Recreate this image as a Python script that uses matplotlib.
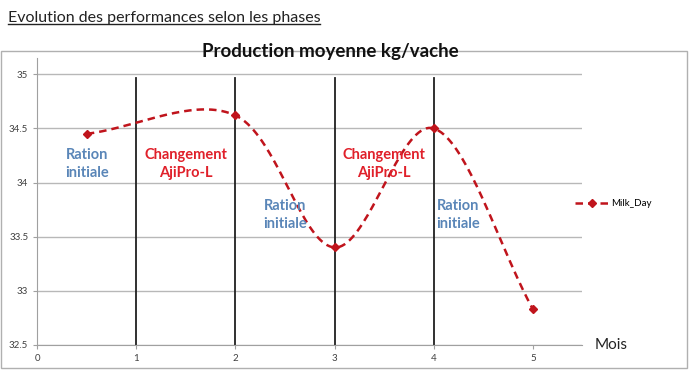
import matplotlib
matplotlib.use('Agg')
import matplotlib.pyplot as plt
from matplotlib.patches import Rectangle
from matplotlib.lines import Line2D
import numpy as np

plt.rcParams['font.family'] = ['Lato', 'DejaVu Sans']

# data
mois = [0.5, 2, 3, 4, 5]
milk_day = [34.45, 34.62, 33.40, 34.50, 32.83]
phases = [1, 2, 3, 4]
labels = [
    (0.5, 34.17, 'Ration\ninitiale', 'blue'),
    (1.5, 34.17, 'Changement\nAjiPro-L', 'red'),
    (2.5, 33.7, 'Ration\ninitiale', 'blue'),
    (3.5, 34.17, 'Changement\nAjiPro-L', 'red'),
    (4.25, 33.7, 'Ration\ninitiale', 'blue'),
]
COLORS = {'blue': '#5a86b8', 'red': '#e0202a'}
LINE = '#c0141c'


def smooth(x, y, n=40):
    # Catmull-Rom style smoothing, like the spreadsheet "smoothed line"
    x = np.asarray(x, float)
    y = np.asarray(y, float)
    px = np.concatenate([[2 * x[0] - x[1]], x, [2 * x[-1] - x[-2]]])
    py = np.concatenate([[2 * y[0] - y[1]], y, [2 * y[-1] - y[-2]]])
    xs, ys = [], []
    t = np.linspace(0, 1, n)
    for i in range(1, len(px) - 2):
        b = []
        for p in (px, py):
            p0, p1, p2, p3 = p[i - 1], p[i], p[i + 1], p[i + 2]
            c1 = p1 + (p2 - p0) / 6
            c2 = p2 - (p3 - p1) / 6
            b.append((1 - t) ** 3 * p1 + 3 * (1 - t) ** 2 * t * c1
                     + 3 * (1 - t) * t ** 2 * c2 + t ** 3 * p2)
        xs.append(b[0])
        ys.append(b[1])
    return np.concatenate(xs), np.concatenate(ys)


fig = plt.figure(figsize=(6.9, 3.7), dpi=100)
fig.patch.set_facecolor('white')
fig.patches.append(Rectangle((0.002, 0.005), 0.994, 0.858, transform=fig.transFigure,
                             fill=False, edgecolor='#b0b0b0', linewidth=1))

ax = fig.add_axes([0.054, 0.068, 0.79, 0.775])
ax.set_xlim(0, 5.5)
ax.set_ylim(32.5, 35.15)
ax.set_yticks([32.5, 33, 33.5, 34, 34.5, 35])
ax.set_yticklabels(['32.5', '33', '33.5', '34', '34.5', '35'])
ax.set_xticks(range(6))
ax.grid(axis='y', color='#b8b8b8', linewidth=1)
ax.set_axisbelow(True)
for s in ['top', 'right']:
    ax.spines[s].set_visible(False)
ax.spines['left'].set_color('#a0a0a0')
ax.spines['bottom'].set_color('#a0a0a0')
ax.tick_params(labelsize=7, colors='#404040', length=3, width=0.8)
ax.tick_params(axis='both', color='#a0a0a0')

for p in phases:
    ax.plot([p, p], [32.5, 34.97], color='#202020', linewidth=1.3)

sx, sy = smooth(mois, milk_day)
ax.plot(sx, sy, color=LINE, linestyle=(0, (3, 2)), linewidth=1.8)
ax.plot(mois, milk_day, linestyle='none', marker='D', markersize=4, color=LINE)

for x, y, txt, c in labels:
    ax.text(x, y, txt, color=COLORS[c], fontsize=10.5, fontweight='bold',
            ha='center', va='center', multialignment='center', linespacing=1.4)

handle = Line2D([], [], color=LINE, linestyle=(0, (3, 2)), linewidth=1.8,
                marker='D', markersize=4)
fig.legend([handle], ['Milk_Day'], loc='center left', bbox_to_anchor=(0.82, 0.45),
           frameon=False, fontsize=7, handlelength=3.5, handletextpad=0.3)

fig.text(0.478, 0.862, 'Production moyenne kg/vache', fontsize=13.5, fontweight='bold',
         ha='center', va='center', color='#111111')
t = fig.text(0.011, 0.951, 'Evolution des performances selon les phases', fontsize=11.5,
             ha='left', va='center', color='#222222')
fig.canvas.draw()
bb = t.get_window_extent()
fig.add_artist(Line2D([bb.x0 / 690, bb.x1 / 690], [(bb.y0 + 1) / 370] * 2,
                      transform=fig.transFigure, color='#222222', linewidth=1))
fig.text(0.862, 0.068, 'Mois', fontsize=11, ha='left', va='center', color='#222222')

fig.savefig('out.png', dpi=100)
